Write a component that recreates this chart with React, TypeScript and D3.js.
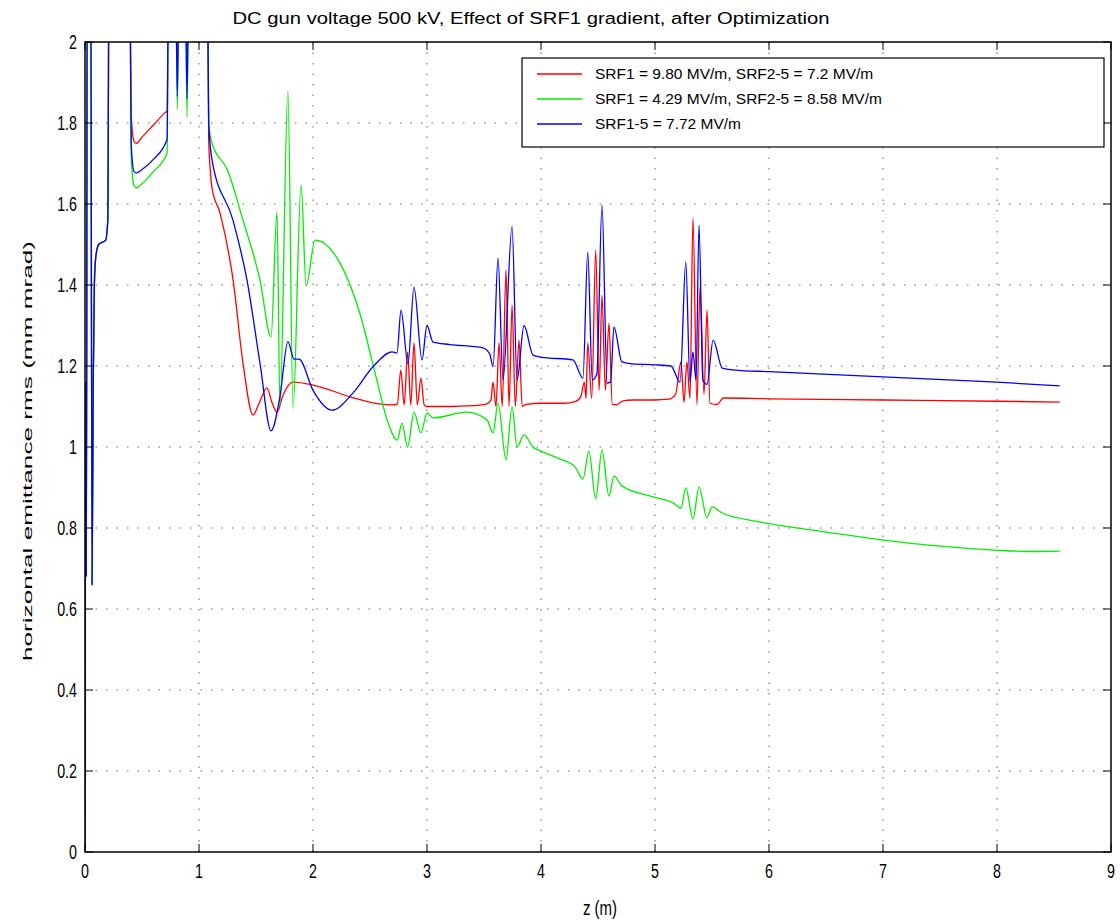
import React, { useEffect, useRef } from "react";
import * as d3 from "d3";

const chartTitle = "DC gun voltage 500 kV, Effect of SRF1 gradient, after Optimization";
const xLabel = "z (m)";
const yLabel = "horizontal emittance rms (mm mrad)";

const xTicks = [0, 1, 2, 3, 4, 5, 6, 7, 8, 9];
const yTicks = [0, 0.2, 0.4, 0.6, 0.8, 1, 1.2, 1.4, 1.6, 1.8, 2];

const seriesNames = [
  "SRF1 = 9.80 MV/m, SRF2-5 = 7.2 MV/m",
  "SRF1 = 4.29 MV/m, SRF2-5 = 8.58 MV/m",
  "SRF1-5 = 7.72 MV/m",
];
const seriesColors = ["#ff0000", "#00ee00", "#0000ff"];

// gun section, all three runs overlap here (values above 2 run off the top)
const gunRegion: [number, number][] = [
  [0, 0], [0.006, 1.16], [0.012, 0.68], [0.02, 2.3], [0.05, 2.3], [0.062, 0.66],
  [0.072, 1.15], [0.082, 1.4], [0.095, 1.47], [0.12, 1.5], [0.18, 1.51],
  [0.2, 1.56], [0.212, 2.3], [0.385, 2.3],
];

const redData: [number, number][] = [
  [0.39, 2.3], [0.405, 1.82], [0.43, 1.755], [0.45, 1.75], [0.5, 1.765], [0.6, 1.795],
  [0.7, 1.825], [0.72, 1.83], [0.735, 2.3], [0.79, 2.3], [0.81, 1.92], [0.83, 2.3],
  [0.875, 2.3], [0.895, 1.93], [0.915, 2.3], [1.07, 2.3], [1.085, 1.76], [1.1, 1.68],
  [1.114, 1.64], [1.184, 1.578], [1.3, 1.41], [1.386, 1.207], [1.474, 1.079],
  [1.53, 1.11], [1.596, 1.146], [1.64, 1.11], [1.684, 1.086], [1.74, 1.13],
  [1.825, 1.16], [2.0, 1.153], [2.325, 1.124], [2.526, 1.109], [2.7, 1.104],
  [2.74, 1.106], [2.77, 1.19], [2.8, 1.104], [2.83, 1.235], [2.858, 1.104],
  [2.886, 1.257], [2.915, 1.104], [2.947, 1.17], [2.975, 1.104], [3.0, 1.1],
  [3.2, 1.1], [3.4, 1.102], [3.52, 1.106], [3.56, 1.115], [3.579, 1.16], [3.605, 1.1],
  [3.632, 1.257], [3.66, 1.1], [3.693, 1.437], [3.72, 1.1], [3.746, 1.35], [3.775, 1.1],
  [3.807, 1.264], [3.835, 1.1], [3.87, 1.105], [4.0, 1.108], [4.2, 1.108], [4.3, 1.112],
  [4.35, 1.125], [4.38, 1.16], [4.395, 1.12], [4.41, 1.257], [4.445, 1.12], [4.48, 1.486],
  [4.51, 1.14], [4.535, 1.375], [4.565, 1.14], [4.596, 1.306], [4.625, 1.105],
  [4.66, 1.104], [4.72, 1.114], [4.8, 1.116], [5.0, 1.116], [5.12, 1.118], [5.18, 1.13],
  [5.228, 1.21], [5.254, 1.11], [5.28, 1.21], [5.307, 1.12], [5.333, 1.565],
  [5.368, 1.105], [5.395, 1.395], [5.43, 1.13], [5.456, 1.338], [5.482, 1.108],
  [5.544, 1.105], [5.6, 1.121], [6.0, 1.119], [7.0, 1.116], [8.0, 1.113], [8.55, 1.111],
];

const greenData: [number, number][] = [
  [0.39, 2.3], [0.405, 1.72], [0.43, 1.645], [0.45, 1.64], [0.5, 1.65], [0.6, 1.68],
  [0.72, 1.726], [0.735, 2.3], [0.79, 2.3], [0.81, 1.835], [0.83, 2.3], [0.875, 2.3],
  [0.895, 1.815], [0.915, 2.3], [1.07, 2.3], [1.085, 1.8], [1.114, 1.75], [1.25, 1.684],
  [1.386, 1.56], [1.535, 1.412], [1.632, 1.272], [1.684, 1.58], [1.71, 1.099],
  [1.78, 1.879], [1.825, 1.096], [1.895, 1.647], [1.94, 1.398], [2.018, 1.511],
  [2.237, 1.454], [2.41, 1.331], [2.56, 1.165], [2.65, 1.067], [2.74, 1.017],
  [2.78, 1.059], [2.83, 1.0], [2.886, 1.086], [2.947, 1.035], [3.0, 1.084],
  [3.053, 1.072], [3.35, 1.086], [3.526, 1.067], [3.58, 1.035], [3.623, 1.109],
  [3.693, 0.968], [3.746, 1.099], [3.79, 1.0], [3.851, 1.03], [3.93, 1.0], [4.0, 0.99],
  [4.167, 0.97], [4.298, 0.951], [4.368, 0.921], [4.42, 0.99], [4.48, 0.872],
  [4.535, 0.993], [4.596, 0.879], [4.64, 0.928], [4.71, 0.904], [4.98, 0.877],
  [5.16, 0.862], [5.228, 0.849], [5.27, 0.899], [5.333, 0.822], [5.386, 0.901],
  [5.456, 0.825], [5.5, 0.852], [5.59, 0.837], [5.92, 0.815], [6.5, 0.79], [7.0, 0.77],
  [7.5, 0.755], [8.0, 0.745], [8.3, 0.742], [8.55, 0.743],
];

const blueData: [number, number][] = [
  [0.39, 2.3], [0.405, 1.75], [0.43, 1.68], [0.45, 1.677], [0.5, 1.685], [0.6, 1.71],
  [0.72, 1.76], [0.735, 2.3], [0.79, 2.3], [0.81, 1.865], [0.83, 2.3], [0.875, 2.3],
  [0.895, 1.86], [0.915, 2.3], [1.07, 2.3], [1.085, 1.8], [1.114, 1.709], [1.298, 1.56],
  [1.421, 1.412], [1.535, 1.207], [1.632, 1.04], [1.71, 1.124], [1.78, 1.26],
  [1.833, 1.217], [1.877, 1.217], [2.0, 1.14], [2.167, 1.091], [2.35, 1.133],
  [2.526, 1.198], [2.693, 1.235], [2.737, 1.232], [2.772, 1.338], [2.833, 1.205],
  [2.886, 1.395], [2.956, 1.215], [3.0, 1.3], [3.053, 1.259], [3.2, 1.253],
  [3.49, 1.245], [3.55, 1.23], [3.58, 1.198], [3.623, 1.467], [3.667, 1.165],
  [3.746, 1.545], [3.79, 1.165], [3.851, 1.3], [3.93, 1.227], [4.0, 1.222],
  [4.28, 1.215], [4.368, 1.17], [4.41, 1.481], [4.45, 1.165], [4.49, 1.18],
  [4.535, 1.598], [4.58, 1.158], [4.61, 1.16], [4.64, 1.296], [4.71, 1.21], [4.8, 1.205],
  [5.0, 1.203], [5.14, 1.2], [5.22, 1.16], [5.27, 1.457], [5.307, 1.16], [5.333, 1.235],
  [5.36, 1.165], [5.386, 1.548], [5.42, 1.165], [5.456, 1.155], [5.51, 1.264],
  [5.59, 1.195], [5.7, 1.19], [6.0, 1.186], [7.0, 1.173], [8.0, 1.16], [8.55, 1.151],
];

const seriesData = [redData, greenData, blueData];

const FONT = "'Liberation Sans', Arial, sans-serif";

export default function App() {
  const svgRef = useRef<SVGSVGElement>(null);

  useEffect(() => {
    const svg = d3.select(svgRef.current);
    svg.selectAll("*").remove();

    const margin = { top: 42, left: 85, right: 9, bottom: 68 };
    const width = 1120 - margin.left - margin.right;
    const height = 920 - margin.top - margin.bottom;

    const x = d3.scaleLinear().domain([0, 9]).range([0, width]);
    const y = d3.scaleLinear().domain([0, 2]).range([height, 0]);

    svg.append("rect").attr("width", 1120).attr("height", 920).attr("fill", "#fff");

    const g = svg.append("g").attr("transform", `translate(${margin.left},${margin.top})`);

    svg.append("defs").append("clipPath").attr("id", "plotClip")
      .append("rect").attr("width", width).attr("height", height);

    // dotted grid
    const grid = g.append("g")
      .attr("stroke", "#666")
      .attr("stroke-width", 1)
      .attr("stroke-dasharray", "1.5,9");
    grid.selectAll("line.gx").data(xTicks.slice(1, -1)).enter().append("line")
      .attr("x1", d => x(d)).attr("x2", d => x(d))
      .attr("y1", height).attr("y2", 0);
    grid.selectAll("line.gy").data(yTicks.slice(1, -1)).enter().append("line")
      .attr("y1", d => y(d)).attr("y2", d => y(d))
      .attr("x1", 0).attr("x2", width);

    // curves
    const line = d3.line<[number, number]>()
      .x(d => x(d[0]))
      .y(d => y(d[1]))
      .curve(d3.curveMonotoneX);

    const plot = g.append("g").attr("clip-path", "url(#plotClip)");
    seriesData.forEach((data, i) => {
      plot.append("path")
        .datum([...gunRegion, ...data])
        .attr("fill", "none")
        .attr("stroke", seriesColors[i])
        .attr("stroke-width", 1.3)
        .attr("d", line);
    });

    // axes: frame with inward ticks on all sides
    const tickLen = 8;
    const axes = g.append("g").attr("stroke", "#000");
    axes.append("rect")
      .attr("width", width).attr("height", height)
      .attr("fill", "none").attr("stroke-width", 1.5);
    xTicks.forEach(t => {
      axes.append("line").attr("x1", x(t)).attr("x2", x(t))
        .attr("y1", height).attr("y2", height - tickLen);
      axes.append("line").attr("x1", x(t)).attr("x2", x(t))
        .attr("y1", 0).attr("y2", tickLen);
    });
    yTicks.forEach(t => {
      axes.append("line").attr("y1", y(t)).attr("y2", y(t))
        .attr("x1", 0).attr("x2", tickLen);
      axes.append("line").attr("y1", y(t)).attr("y2", y(t))
        .attr("x1", width).attr("x2", width - tickLen);
    });

    // tick labels are tall and narrow in the original
    const labels = g.append("g").style("font-family", FONT).style("font-size", "15px").attr("fill", "#000");
    labels.selectAll("text.xt").data(xTicks).enter().append("text")
      .attr("transform", d => `translate(${x(d)},${height + 19}) scale(0.95,1.3)`)
      .attr("dy", "0.35em")
      .attr("text-anchor", "middle")
      .text(d => String(d));
    labels.selectAll("text.yt").data(yTicks).enter().append("text")
      .attr("transform", d => `translate(-8,${y(d)}) scale(0.95,1.3)`)
      .attr("dy", "0.35em")
      .attr("text-anchor", "end")
      .text(d => String(d));

    labels.append("text")
      .attr("transform", `translate(${width / 2 + 2},${height + 56}) scale(1,1.3)`)
      .attr("dy", "0.35em")
      .attr("text-anchor", "middle")
      .text(xLabel);
    labels.append("text")
      .attr("transform", `translate(${-53},${409}) rotate(-90)`)
      .attr("text-anchor", "middle")
      .attr("textLength", 420).attr("lengthAdjust", "spacingAndGlyphs")
      .style("font-size", "13.5px")
      .text(yLabel);

    svg.append("text")
      .attr("x", 531).attr("y", 24)
      .attr("text-anchor", "middle")
      .attr("textLength", 597).attr("lengthAdjust", "spacingAndGlyphs")
      .style("font-family", FONT).style("font-size", "16px")
      .text(chartTitle);

    // legend
    const legend = svg.append("g").attr("transform", "translate(522,58)");
    legend.append("rect")
      .attr("width", 582).attr("height", 89)
      .attr("fill", "#fff").attr("stroke", "#000").attr("stroke-width", 1.2);
    seriesNames.forEach((name, i) => {
      const ly = 16 + i * 25;
      legend.append("line")
        .attr("x1", 15).attr("x2", 60).attr("y1", ly).attr("y2", ly)
        .attr("stroke", seriesColors[i]).attr("stroke-width", 1.3);
      legend.append("text")
        .attr("x", 73).attr("y", ly).attr("dy", "0.35em")
        .style("font-family", FONT).style("font-size", "15.5px")
        .text(name);
    });
  }, []);

  return (
    <svg
      ref={svgRef}
      width={1120}
      height={920}
      style={{ position: "absolute", left: 0, top: 0 }}
    />
  );
}
